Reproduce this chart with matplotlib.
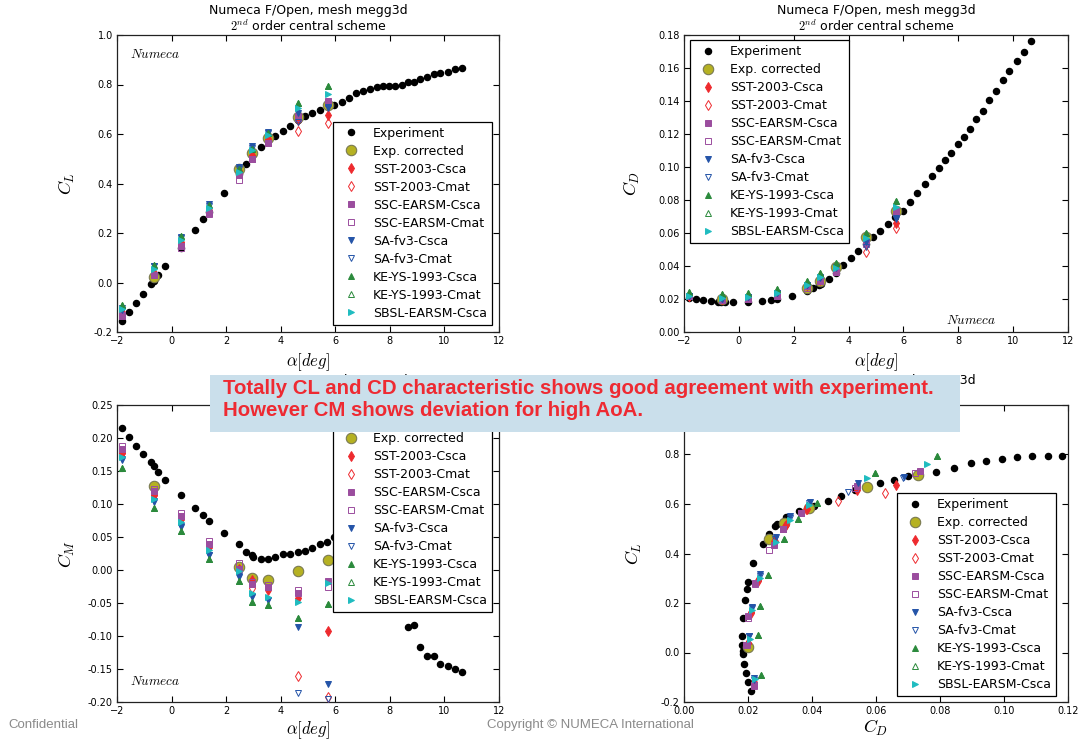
import matplotlib
matplotlib.use("Agg")
import matplotlib.pyplot as plt
from matplotlib.patches import Rectangle

# ---------------- data ----------------
exp_alpha = [-1.83, -1.56, -1.29, -1.03, -0.76, -0.65, -0.49, -0.23, 0.33, 0.85,
             1.16, 1.38, 1.92, 2.47, 2.72, 2.93, 3.00, 3.27, 3.54, 3.80,
             4.08, 4.35, 4.62, 4.89, 5.16, 5.43, 5.70, 5.97, 6.24, 6.51,
             6.77, 7.03, 7.28, 7.52, 7.75, 7.98, 8.20, 8.43, 8.65, 8.90,
             9.12, 9.37, 9.63, 9.85, 10.14, 10.38, 10.64]
exp_cl = [-0.154, -0.120, -0.081, -0.046, -0.008, 0.006, 0.032, 0.068, 0.141, 0.211,
          0.256, 0.285, 0.361, 0.440, 0.478, 0.510, 0.520, 0.546, 0.571, 0.592,
          0.614, 0.633, 0.655, 0.671, 0.683, 0.697, 0.714, 0.718, 0.729, 0.744,
          0.764, 0.773, 0.783, 0.791, 0.794, 0.795, 0.795, 0.799, 0.810, 0.811,
          0.821, 0.829, 0.842, 0.845, 0.852, 0.861, 0.865]
exp_cd = [0.0209, 0.0199, 0.0193, 0.0188, 0.0183, 0.0183, 0.0182, 0.0181, 0.0183, 0.0190,
          0.0196, 0.0201, 0.0217, 0.0246, 0.0265, 0.0285, 0.0290, 0.0320, 0.0358, 0.0405,
          0.0449, 0.0491, 0.0533, 0.0576, 0.0611, 0.0656, 0.0700, 0.0734, 0.0787, 0.0843,
          0.0896, 0.0945, 0.0993, 0.1042, 0.1086, 0.1137, 0.1181, 0.1230, 0.1288, 0.1339,
          0.1406, 0.1458, 0.1527, 0.1582, 0.1642, 0.1697, 0.1766]
exp_cm = [0.215, 0.202, 0.188, 0.176, 0.163, 0.157, 0.149, 0.137, 0.114, 0.094,
          0.083, 0.075, 0.056, 0.039, 0.028, 0.022, 0.020, 0.016, 0.017, 0.020,
          0.024, 0.025, 0.028, 0.029, 0.034, 0.039, 0.043, 0.050, 0.055, 0.058,
          0.055, 0.050, 0.040, 0.030, 0.015, 0.000, -0.020, -0.045, -0.086, -0.084,
          -0.116, -0.131, -0.131, -0.142, -0.146, -0.150, -0.155]

corr_alpha = [-0.63, 2.48, 2.95, 3.55, 4.65, 5.72]
corr_cl = [0.021, 0.458, 0.524, 0.585, 0.667, 0.718]
corr_cd = [0.0201, 0.0267, 0.0312, 0.0392, 0.0573, 0.0731]
corr_cm = [0.128, 0.005, -0.012, -0.015, -0.002, 0.015]

cfd_alpha = [-1.83, -0.63, 0.33, 1.38, 2.48, 2.95, 3.55, 4.65, 5.72]

sst_csca_cl = [-0.122, 0.040, 0.165, 0.293, 0.452, 0.515, 0.580, 0.655, 0.675]
sst_csca_cd = [0.0219, 0.0201, 0.0210, 0.0232, 0.0284, 0.0319, 0.0385, 0.0542, 0.0663]
sst_csca_cm = [0.178, 0.114, 0.078, 0.035, 0.001, -0.015, -0.029, -0.043, -0.092]

sst_cmat_cl = [-0.120, 0.040, 0.160, 0.290, 0.450, 0.510, 0.580, 0.612, 0.645]
sst_cmat_cd = [0.0219, 0.0200, 0.0210, 0.0232, 0.0282, 0.0317, 0.0382, 0.0482, 0.0628]
sst_cmat_cm = [0.178, 0.114, 0.078, 0.035, 0.000, -0.028, -0.030, -0.161, -0.193]

ssc_csca_cl = [-0.133, 0.032, 0.147, 0.279, 0.436, 0.501, 0.565, 0.672, 0.733]
ssc_csca_cd = [0.0219, 0.0195, 0.0201, 0.0221, 0.0280, 0.0309, 0.0366, 0.0541, 0.0736]
ssc_csca_cm = [0.184, 0.120, 0.082, 0.040, 0.002, -0.021, -0.025, -0.035, -0.016]

ssc_cmat_cl = [-0.135, 0.030, 0.140, 0.275, 0.415, 0.500, 0.565, 0.665, 0.725]
ssc_cmat_cd = [0.0219, 0.0196, 0.0201, 0.0221, 0.0265, 0.0308, 0.0365, 0.0535, 0.0721]
ssc_cmat_cm = [0.188, 0.122, 0.087, 0.044, 0.011, -0.018, -0.022, -0.031, -0.026]

sa_csca_cl = [-0.105, 0.066, 0.184, 0.318, 0.466, 0.550, 0.609, 0.683, 0.708]
sa_csca_cd = [0.0219, 0.0203, 0.0212, 0.0238, 0.0286, 0.0332, 0.0394, 0.0545, 0.0688]
sa_csca_cm = [0.167, 0.103, 0.065, 0.022, -0.010, -0.041, -0.046, -0.086, -0.172]

sa_cmat_cl = [-0.110, 0.065, 0.180, 0.310, 0.460, 0.545, 0.605, 0.650, 0.705]
sa_cmat_cd = [0.0219, 0.0203, 0.0212, 0.0236, 0.0285, 0.0330, 0.0390, 0.0514, 0.0685]
sa_cmat_cm = [0.168, 0.104, 0.066, 0.023, -0.009, -0.040, -0.045, -0.186, -0.196]

ke_csca_cl = [-0.092, 0.070, 0.186, 0.315, 0.460, 0.540, 0.605, 0.726, 0.792]
ke_csca_cd = [0.0242, 0.0230, 0.0238, 0.0263, 0.0312, 0.0357, 0.0416, 0.0598, 0.0791]
ke_csca_cm = [0.154, 0.094, 0.059, 0.016, -0.017, -0.048, -0.053, -0.073, -0.051]

ke_cmat_cl = [-0.092, 0.070, 0.186, 0.315, 0.460, 0.540, 0.605, 0.726, 0.792]
ke_cmat_cd = [0.0242, 0.0230, 0.0238, 0.0263, 0.0312, 0.0357, 0.0416, 0.0598, 0.0791]
ke_cmat_cm = [0.154, 0.094, 0.059, 0.016, -0.017, -0.048, -0.053, -0.073, -0.051]

sbsl_csca_cl = [-0.106, 0.056, 0.170, 0.300, 0.447, 0.535, 0.596, 0.706, 0.761]
sbsl_csca_cd = [0.0221, 0.0206, 0.0214, 0.0236, 0.0287, 0.0332, 0.0390, 0.0571, 0.0759]
sbsl_csca_cm = [0.171, 0.108, 0.072, 0.030, -0.002, -0.035, -0.041, -0.048, -0.019]

model_labels = ["SST-2003-Csca", "SST-2003-Cmat", "SSC-EARSM-Csca", "SSC-EARSM-Cmat",
                "SA-fv3-Csca", "SA-fv3-Cmat", "KE-YS-1993-Csca", "KE-YS-1993-Cmat",
                "SBSL-EARSM-Csca"]
model_cl = [sst_csca_cl, sst_cmat_cl, ssc_csca_cl, ssc_cmat_cl, sa_csca_cl, sa_cmat_cl,
            ke_csca_cl, ke_cmat_cl, sbsl_csca_cl]
model_cd = [sst_csca_cd, sst_cmat_cd, ssc_csca_cd, ssc_cmat_cd, sa_csca_cd, sa_cmat_cd,
            ke_csca_cd, ke_cmat_cd, sbsl_csca_cd]
model_cm = [sst_csca_cm, sst_cmat_cm, ssc_csca_cm, ssc_cmat_cm, sa_csca_cm, sa_cmat_cm,
            ke_csca_cm, ke_cmat_cm, sbsl_csca_cm]

title_text = "Numeca F/Open, mesh megg3d\n$2^{nd}$ order central scheme"
note_line1 = "Totally CL and CD characteristic shows good agreement with experiment."
note_line2 = "However CM shows deviation for high AoA."

# ---------------- style ----------------
RED = "#ee2a2e"
PURPLE = "#9b4d9e"
BLUE = "#2454a8"
GREEN = "#2b8a3c"
CYAN = "#1fbcc0"
styles = [
    dict(marker="d", color=RED, mfc=RED, mec=RED),
    dict(marker="d", color=RED, mfc="none", mec=RED),
    dict(marker="s", color=PURPLE, mfc=PURPLE, mec=PURPLE),
    dict(marker="s", color=PURPLE, mfc="none", mec=PURPLE),
    dict(marker="v", color=BLUE, mfc=BLUE, mec=BLUE),
    dict(marker="v", color=BLUE, mfc="none", mec=BLUE),
    dict(marker="^", color=GREEN, mfc=GREEN, mec=GREEN),
    dict(marker="^", color=GREEN, mfc="none", mec=GREEN),
    dict(marker=">", color=CYAN, mfc=CYAN, mec=CYAN),
]

plt.rcParams.update({
    "font.family": "DejaVu Sans",
    "mathtext.fontset": "cm",
    "xtick.direction": "in",
    "ytick.direction": "in",
    "xtick.top": True,
    "ytick.right": True,
    "xtick.major.size": 4,
    "ytick.major.size": 4,
    "xtick.major.pad": 3,
    "ytick.major.pad": 3,
    "xtick.labelsize": 7,
    "ytick.labelsize": 7,
    "axes.linewidth": 0.9,
    "axes.edgecolor": "#222222",
})

W, H = 1080, 740
fig = plt.figure(figsize=(W / 100, H / 100), dpi=100, facecolor="white")


def add_axes(px_left, px_top, px_right, px_bottom):
    return fig.add_axes([px_left / W, 1 - px_bottom / H,
                         (px_right - px_left) / W, (px_bottom - px_top) / H])


ax_cl = add_axes(117, 35, 499, 332)
ax_cd = add_axes(684, 35, 1068, 332)
ax_cm = add_axes(117, 405, 499, 702)
ax_pol = add_axes(684, 405, 1068, 702)

EXP_MS = 4.4
CORR_MS = 7.5
CFD_MS = 5.0


def draw(ax, xe, ye, xc, yc, xm_list, ym_list):
    ax.plot(xe, ye, "o", color="black", ms=EXP_MS, mec="black", label="Experiment", zorder=3)
    ax.plot(xc, yc, "o", color="#b5b122", ms=CORR_MS, mfc="#b5b122", mec="#7a7a52",
            mew=0.8, label="Exp. corrected", zorder=3)
    for lab, st, xm, ym in zip(model_labels, styles, xm_list, ym_list):
        ax.plot(xm, ym, linestyle="none", ms=CFD_MS, mew=0.7, label=lab, zorder=4, **st)


def legend(ax, loc, anchor):
    lg = ax.legend(loc=loc, bbox_to_anchor=anchor, borderaxespad=0, numpoints=1,
                   fontsize=9, fancybox=False, framealpha=1, edgecolor="black",
                   borderpad=0.4, labelspacing=0.4, handlelength=2.0, handletextpad=0.8)
    lg.get_frame().set_linewidth(0.9)
    lg.set_zorder(10)
    return lg


def title(ax):
    ax.set_title(title_text, fontsize=9, pad=3, linespacing=1.15)


# CL vs alpha
draw(ax_cl, exp_alpha, exp_cl, corr_alpha, corr_cl, [cfd_alpha] * 9, model_cl)
ax_cl.set_xlim(-2, 12)
ax_cl.set_ylim(-0.2, 1.0)
ax_cl.set_xlabel(r"$\alpha[deg]$", fontsize=12, labelpad=4)
ax_cl.set_ylabel(r"$C_L$", fontsize=13, labelpad=12)
ax_cl.text(0.034, 0.933, r"$Numeca$", transform=ax_cl.transAxes, fontsize=9.5, va="center")
legend(ax_cl, "lower right", (0.982, 0.024))
title(ax_cl)

# CD vs alpha
draw(ax_cd, exp_alpha, exp_cd, corr_alpha, corr_cd, [cfd_alpha] * 9, model_cd)
ax_cd.set_xlim(-2, 12)
ax_cd.set_ylim(0.0, 0.18)
ax_cd.set_xlabel(r"$\alpha[deg]$", fontsize=12, labelpad=4)
ax_cd.set_ylabel(r"$C_D$", fontsize=13, labelpad=12)
ax_cd.text(0.682, 0.04, r"$Numeca$", transform=ax_cd.transAxes, fontsize=9.5, va="center")
legend(ax_cd, "upper left", (0.016, 0.983))
title(ax_cd)

# CM vs alpha
draw(ax_cm, exp_alpha, exp_cm, corr_alpha, corr_cm, [cfd_alpha] * 9, model_cm)
ax_cm.set_xlim(-2, 12)
ax_cm.set_ylim(-0.2, 0.25)
ax_cm.set_xlabel(r"$\alpha[deg]$", fontsize=12, labelpad=2)
ax_cm.set_ylabel(r"$C_M$", fontsize=13, labelpad=8)
ax_cm.text(0.034, 0.07, r"$Numeca$", transform=ax_cm.transAxes, fontsize=9.5, va="center")
legend(ax_cm, "lower right", (0.982, 0.303))
title(ax_cm)

# CL vs CD
draw(ax_pol, exp_cd, exp_cl, corr_cd, corr_cl, model_cd, model_cl)
ax_pol.set_xlim(0.0, 0.12)
ax_pol.set_ylim(-0.2, 1.0)
ax_pol.set_xlabel(r"$C_D$", fontsize=13, labelpad=1)
ax_pol.set_ylabel(r"$C_L$", fontsize=13, labelpad=12)
legend(ax_pol, "lower right", (0.969, 0.02))
title(ax_pol)

for ax in (ax_cl, ax_cd, ax_cm):
    ax.set_xticks(range(-2, 13, 2))
ax_cl.set_yticks([-0.2, 0.0, 0.2, 0.4, 0.6, 0.8, 1.0])
ax_pol.set_yticks([-0.2, 0.0, 0.2, 0.4, 0.6, 0.8, 1.0])
ax_cd.set_yticks([0.0, 0.02, 0.04, 0.06, 0.08, 0.10, 0.12, 0.14, 0.16, 0.18])
ax_cm.set_yticks([-0.20, -0.15, -0.10, -0.05, 0.0, 0.05, 0.10, 0.15, 0.20, 0.25])
ax_pol.set_xticks([0.0, 0.02, 0.04, 0.06, 0.08, 0.10, 0.12])
ax_cd.yaxis.set_major_formatter(matplotlib.ticker.FormatStrFormatter("%.2f"))
ax_cm.yaxis.set_major_formatter(matplotlib.ticker.FormatStrFormatter("%.2f"))
ax_pol.xaxis.set_major_formatter(matplotlib.ticker.FormatStrFormatter("%.2f"))
ax_cl.yaxis.set_major_formatter(matplotlib.ticker.FormatStrFormatter("%.1f"))
ax_pol.yaxis.set_major_formatter(matplotlib.ticker.FormatStrFormatter("%.1f"))

# overlay note box
box = Rectangle((210 / W, 1 - 432 / H), 750 / W, 57 / H, transform=fig.transFigure,
                facecolor="#cadfeb", edgecolor="none", zorder=20)
fig.add_artist(box)
fig.text(223 / W, 1 - 388 / H, note_line1, color="#ee2a32", fontsize=14.7, fontweight="bold",
         family="Liberation Sans", va="center", ha="left", zorder=21)
fig.text(223 / W, 1 - 411 / H, note_line2, color="#ee2a32", fontsize=14.7, fontweight="bold",
         family="Liberation Sans", va="center", ha="left", zorder=21)

# footer
fig.text(8 / W, 1 - 725 / H, "Confidential", color="#8a8a8a", fontsize=9.5,
         family="Liberation Sans", va="center", ha="left")
fig.text(487 / W, 1 - 725 / H, "Copyright \u00a9 NUMECA International", color="#8a8a8a",
         fontsize=9.5, family="Liberation Sans", va="center", ha="left")

fig.savefig("out.png", dpi=100, facecolor="white")
